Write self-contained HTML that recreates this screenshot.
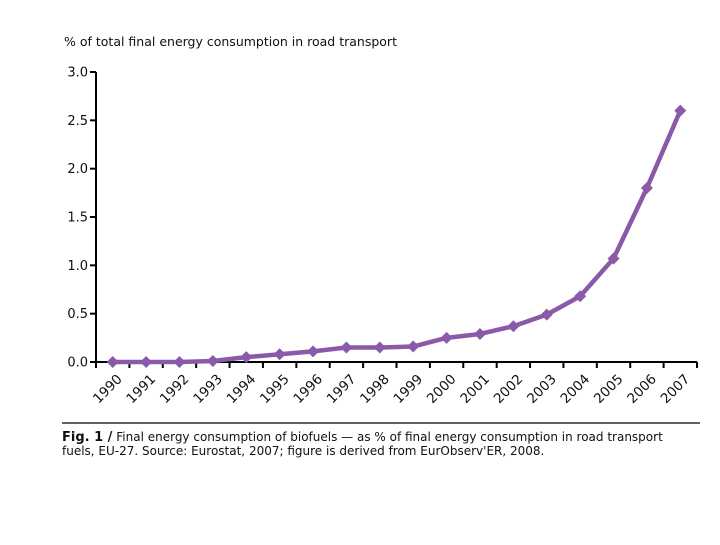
<!DOCTYPE html>
<html><head><meta charset="utf-8"><style>
body{margin:0;background:#fff;font-family:"Liberation Sans","DejaVu Sans",sans-serif;}
svg text{font-family:"DejaVu Sans","Liberation Sans",sans-serif;fill:#111;}
</style></head><body>
<svg width="720" height="540" xmlns="http://www.w3.org/2000/svg">
<text x="64" y="46" font-size="12.5">% of total final energy consumption in road transport</text>
<g id="yaxis"></g>
<g id="xaxis"></g>
<g id="series"></g>
<line x1="62" y1="423" x2="700" y2="423" stroke="#000" stroke-width="1.2"/>
<text x="62" y="441" font-size="12"><tspan font-weight="bold" font-size="13">Fig. 1 /</tspan> Final energy consumption of biofuels — as % of final energy consumption in road transport</text>
<text x="62" y="455" font-size="12">fuels, EU-27. Source: Eurostat, 2007; figure is derived from EurObserv'ER, 2008.</text>
</svg>
<script>
const years=["1990","1991","1992","1993","1994","1995","1996","1997","1998","1999","2000","2001","2002","2003","2004","2005","2006","2007"];
const values=[0,0,0,0.01,0.05,0.08,0.11,0.15,0.15,0.16,0.25,0.29,0.37,0.49,0.68,1.07,1.80,2.60];
const yTicks=[0,0.5,1.0,1.5,2.0,2.5,3.0];
const NS="http://www.w3.org/2000/svg";
const x0=96,x1=697,y0=362,yTop=72,yMax=3;
const bw=(x1-x0)/years.length;
const xs=i=>x0+bw*(i+0.5);
const ys=v=>y0-(v/yMax)*(y0-yTop);
function mk(t,a,p){const e=document.createElementNS(NS,t);for(const k in a)e.setAttribute(k,a[k]);p.appendChild(e);return e;}
const ya=document.getElementById('yaxis'),xa=document.getElementById('xaxis'),se=document.getElementById('series');
mk('line',{x1:x0,y1:yTop,x2:x0,y2:y0,stroke:'#000','stroke-width':2},ya);
yTicks.forEach(v=>{
 mk('line',{x1:x0-6,y1:ys(v),x2:x0,y2:ys(v),stroke:'#000','stroke-width':2},ya);
 const t=mk('text',{x:x0-8,y:ys(v)+4.5,'text-anchor':'end','font-size':13},ya);
 
 
 t.textContent=v.toFixed(1);
});
mk('line',{x1:x0,y1:y0,x2:x1,y2:y0,stroke:'#000','stroke-width':2},xa);
for(let i=0;i<=years.length;i++){mk('line',{x1:x0+bw*i,y1:y0,x2:x0+bw*i,y2:y0+6,stroke:'#000','stroke-width':2},xa);}
years.forEach((y,i)=>{
 const cx=xs(i)-2,cy=y0+30;
 const t=mk('text',{x:cx,y:cy,'text-anchor':'middle','font-size':13.5,transform:`rotate(-45 ${cx} ${cy})`},xa);
 
 
 t.textContent=y;
});
const pts=values.map((v,i)=>xs(i)+','+ys(v)).join(' ');
const pl=mk('polyline',{points:pts,fill:'none',stroke:'#8a5aa8','stroke-width':4.5,'stroke-linejoin':'round'},se);


values.forEach((v,i)=>{
 const cx=xs(i),cy=ys(v),r=6;
 const p=mk('polygon',{points:`${cx},${cy-r} ${cx+r},${cy} ${cx},${cy+r} ${cx-r},${cy}`,fill:'#8a5aa8'},se);
 
 
});
</script>
</body></html>
